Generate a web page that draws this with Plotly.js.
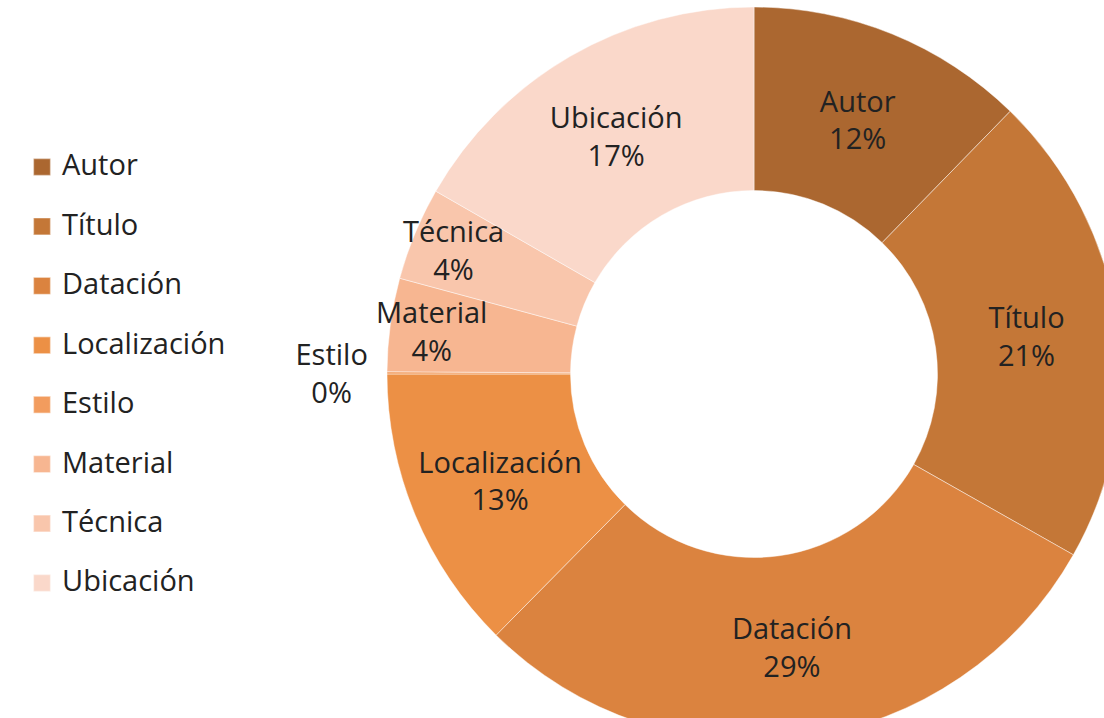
<!DOCTYPE html>
<html>
<head>
<meta charset="utf-8">
<script src="https://cdn.plot.ly/plotly-3.0.1.min.js"></script>
<style>
html,body{margin:0;padding:0;overflow:hidden;background:#ffffff;}
#chart{width:1200px;height:800px;}
#chart .legendpoints path.legendpie{transform:translate(20px,0px) scale(1.42);}
</style>
</head>
<body>
<div id="chart"></div>
<script>
// Data
const categories = ['Autor', 'Título', 'Datación', 'Localización', 'Estilo', 'Material', 'Técnica', 'Ubicación'];
const values = [12.3, 20.9, 29.2, 12.6, 0.1, 4.1, 4.1, 16.7];
const colors = ['#AB6730', '#C47737', '#DB833F', '#EC9045', '#F29C5E', '#F7B691', '#F9C6AC', '#FAD8CA'];

const FONT = '"Open Sans", "Noto Sans", sans-serif';
const TXT = 29;
const W = 1200, H = 800;
const cx = 754, cy = 374, R = 367;

const legendLabels = categories.map(c => '<span style="font-size:' + TXT + 'px">' + c + '</span><br> ');

const trace = {
  type: 'pie',
  labels: legendLabels,
  values: values,
  customdata: categories,
  sort: false,
  direction: 'clockwise',
  rotation: 0,
  hole: 0.5,
  marker: { colors: colors, line: { color: 'rgba(255,255,255,0.45)', width: 1 } },
  texttemplate: '%{customdata}<br>%{percent:.0%}',
  textposition: values.map(v => v < 1 ? 'outside' : 'inside'),
  insidetextorientation: 'horizontal',
  textfont: { family: FONT, size: TXT, color: '#222222' },
  insidetextfont: { family: FONT, size: TXT, color: '#222222' },
  outsidetextfont: { family: FONT, size: TXT, color: '#222222' },
  hoverinfo: 'none',
  domain: {
    x: [(cx - R) / W, (cx + R) / W],
    y: [1 - (cy + R) / H, 1 - (cy - R) / H]
  },
  showlegend: true
};

const layout = {
  width: W,
  height: H,
  margin: { l: 0, r: 0, t: 0, b: 0 },
  paper_bgcolor: '#ffffff',
  plot_bgcolor: '#ffffff',
  font: { family: FONT, color: '#222222' },
  showlegend: true,
  uniformtext: { minsize: TXT, mode: 'show' },
  legend: {
    x: 22 / W,
    xanchor: 'left',
    y: 0.817,
    yanchor: 'top',
    valign: 'top',
    bgcolor: 'rgba(0,0,0,0)',
    font: { family: FONT, size: 21.7, color: '#222222' }
  }
};

Plotly.newPlot('chart', [trace], layout, { displayModeBar: false, staticPlot: true });
</script>
</body>
</html>
